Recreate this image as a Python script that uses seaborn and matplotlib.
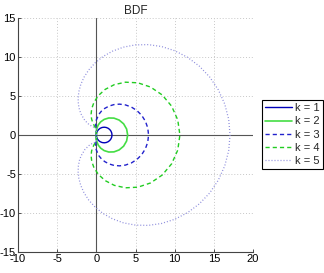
import matplotlib
matplotlib.use('Agg')
import matplotlib.pyplot as plt
import seaborn as sns
import pandas as pd

# stability region boundaries of BDF methods (upper half)
k1_x = [0, 0.034, 0.134, 0.293, 0.5, 0.741, 1.0, 1.259, 1.5, 1.707, 1.866, 1.966, 2.0]
k1_y = [0, 0.259, 0.5, 0.707, 0.866, 0.966, 1.0, 0.966, 0.866, 0.707, 0.5, 0.259, 0]

k2_x = [0, 0.001, 0.018, 0.086, 0.25, 0.549, 1.0, 1.585, 2.25, 2.914, 3.482, 3.865, 4.0]
k2_y = [0, 0.268, 0.567, 0.914, 1.299, 1.682, 2.0, 2.182, 2.165, 1.914, 1.433, 0.768, 0]

k3_x = [0, -0.001, -0.015, -0.052, -0.083, -0.006, 0.333, 0.648, 1.075, 1.613, 2.25,
        2.963, 3.719, 4.474, 5.181, 5.793, 6.266, 6.565, 6.667]
k3_y = [0, 0.262, 0.534, 0.857, 1.299, 1.912, 2.667, 3.055, 3.412, 3.705, 3.897,
        3.957, 3.857, 3.583, 3.132, 2.517, 1.762, 0.907, 0]

k4_x = [0, 0.0, -0.006, -0.052, -0.208, -0.482, -0.610, -0.667, -0.586, -0.297, 0.261,
        1.125, 2.294, 3.719, 5.306, 6.922, 8.410, 9.613, 10.395, 10.667]
k4_y = [0, 0.262, 0.519, 0.771, 1.083, 1.637, 2.082, 2.667, 3.385, 4.204, 5.057,
        5.846, 6.456, 6.771, 6.690, 6.148, 5.134, 3.695, 1.934, 0]

k5_x = [0, 0.0, 0.001, -0.004, -0.108, -0.271, -0.552, -0.963, -1.467, -1.965, -2.162,
        -2.292, -2.325, -2.234, -1.991, -1.575, -0.966, -0.155, 0.860, 2.070, 3.457,
        4.988, 6.624, 8.315, 10.006, 11.637, 13.147, 14.477, 15.573, 16.391, 16.896, 17.067]
k5_y = [0, 0.262, 0.521, 0.751, 0.909, 0.982, 1.107, 1.367, 1.867, 2.705, 3.273,
        3.942, 4.706, 5.553, 6.462, 7.405, 8.347, 9.249, 10.065, 10.751, 11.261,
        11.552, 11.589, 11.346, 10.805, 9.963, 8.830, 7.427, 5.791, 3.969, 2.018, 0]

labels = ['k = 1', 'k = 2', 'k = 3', 'k = 4', 'k = 5']
xs = [k1_x, k2_x, k3_x, k4_x, k5_x]
ys = [k1_y, k2_y, k3_y, k4_y, k5_y]
colors = ['#0000b8', '#44dd44', '#2222cc', '#22cc22', '#8c8cdc']
styles = ['-', '-', (0, (3, 2.2)), (0, (3, 2.2)), (0, (0.8, 1.6))]
widths = [1.0, 1.2, 1.0, 1.0, 0.9]

sns.set_style('white')
plt.rcParams['font.family'] = ['Liberation Sans', 'DejaVu Sans']
plt.rcParams['axes.unicode_minus'] = False

fig = plt.figure(figsize=(3.24, 2.73), dpi=100)
ax = fig.add_axes([18 / 324, 21 / 273, 235 / 324, 234 / 273])

# axis lines through the origin
ax.axhline(0, color='#555555', lw=0.8, zorder=1)
ax.axvline(0, color='#555555', lw=0.8, zorder=1)

for x, y, lab, c, ls, lw in zip(xs, ys, labels, colors, styles, widths):
    # mirror the upper half to close the curve
    full_x = x + x[-2::-1]
    full_y = y + [-v for v in y[-2::-1]]
    df = pd.DataFrame({'x': full_x, 'y': full_y})
    sns.lineplot(data=df, x='x', y='y', sort=False, estimator=None, ax=ax,
                 color=c, linestyle=ls, linewidth=lw, label=lab, zorder=3)

ax.set_xlim(-10, 20)
ax.set_ylim(-15, 15)
ax.set_xticks(range(-10, 21, 5))
ax.set_yticks(range(-15, 16, 5))
ax.set_xlabel('')
ax.set_ylabel('')
ax.set_title('BDF', fontsize=8.5, pad=3)
ax.tick_params(labelsize=8, direction='in', length=2, width=0.6, pad=1.5,
               left=True, bottom=True, colors='#333333', labelcolor='black')
ax.grid(True, color='#c8c8c8', linestyle=(0, (1, 2)), linewidth=0.7)
for side in ['top', 'right']:
    ax.spines[side].set_visible(False)
for side in ['left', 'bottom']:
    ax.spines[side].set_color('#444444')
    ax.spines[side].set_linewidth(0.8)

leg = ax.legend(loc='center left', bbox_to_anchor=(262 / 324, 0.507),
                bbox_transform=fig.transFigure, borderaxespad=0, fontsize=8,
                handlelength=2.4, handletextpad=0.25, labelspacing=0.28,
                borderpad=0.3, fancybox=False, framealpha=1)
leg.get_frame().set_edgecolor('black')
leg.get_frame().set_linewidth(0.8)

fig.savefig('out.png', dpi=100)
